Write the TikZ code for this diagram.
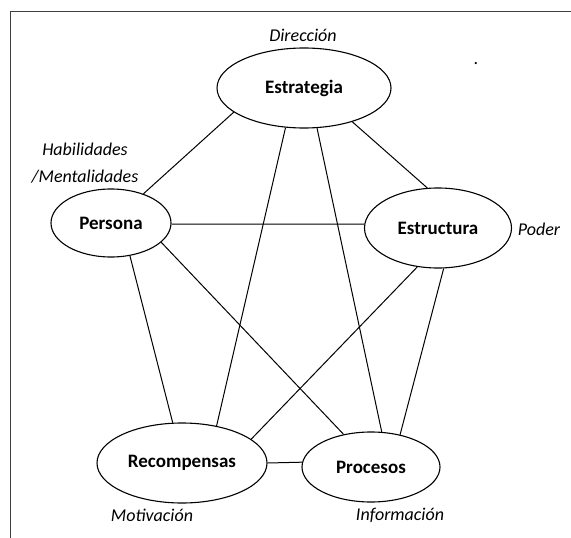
\documentclass[tikz,border=0pt]{standalone}
\usepackage{fontspec}
\setmainfont{Carlito}
\usetikzlibrary{shapes.geometric}
\tikzstyle{factor} = [ellipse, draw, line width=1.1pt, inner sep=0pt,
  font=\fontsize{19}{23}\selectfont\bfseries]
\tikzstyle{aspect} = [font=\fontsize{18}{27}\selectfont\itshape, align=center]

\begin{document}
\begin{tikzpicture}[x=1pt, y=-1pt, line width=1pt]
  \useasboundingbox (0,0) rectangle (571,538);
  \draw[line width=0.9pt, black!75] (571,11) -- (10,11) -- (10,538);

  \node[factor, minimum width=174pt, minimum height=80pt] (est) at (304,88) {Estrategia};
  \node[factor, minimum width=120pt, minimum height=68pt] (per) at (111,223) {Persona};
  \node[factor, minimum width=147pt, minimum height=80pt] (estr) at (438,228) {Estructura};
  \node[factor, minimum width=170pt, minimum height=80pt] (rec) at (182,463) {Recompensas};
  \node[factor, minimum width=138pt, minimum height=70pt] (proc) at (371,467) {Procesos};

  \node[aspect] (dir) at (303,35) {Direcci\'on};
  \node[aspect] (hab) at (85,163) {Habilidades\\/Mentalidades};
  \node[aspect] (pod) at (539,229) {Poder};
  \node[aspect] (mot) at (152,515) {Motivaci\'on};
  \node[aspect] (inf) at (400,515) {Informaci\'on};
  \node[anchor=base, font=\fontsize{18}{20}\selectfont] (dot) at (476,64) {.};

  \path[draw] (est.199) -- (per.42);
  \path[draw] (est.325) -- (estr.105);
  \path[draw] (est.245) -- (rec.47);
  \path[draw] (est.288) -- (proc.73);
  \path[draw] (per.359) -- (estr.177);
  \path[draw] (per.300) -- (rec.103);
  \path[draw] (per.339) -- (proc.130);
  \path[draw] (estr.242) -- (rec.19);
  \path[draw] (estr.278) -- (proc.48);
  \path[draw] (rec.east) -- (proc.176);
\end{tikzpicture}
\end{document}
